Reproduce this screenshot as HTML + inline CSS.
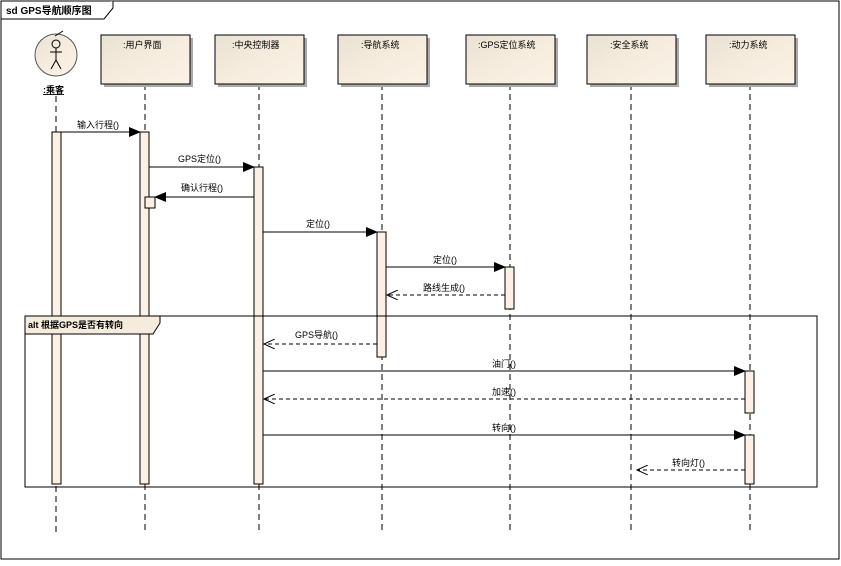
<!DOCTYPE html>
<html><head><meta charset="utf-8"><style>
body{margin:0;background:#fff;width:841px;height:561px;overflow:hidden}
svg text{font-family:"Liberation Sans","Noto Sans CJK SC",sans-serif;font-size:9px;fill:#000}
</style></head><body>
<svg width="841" height="561" viewBox="0 0 841 561">
<defs>
<linearGradient id="g" x1="0" x2="1" y1="0" y2="1"><stop offset="0" stop-color="#e9e1d2"/><stop offset="0.5" stop-color="#f5ecde"/><stop offset="1" stop-color="#fbf3e6"/></linearGradient>
<marker id="f" markerWidth="12" markerHeight="10" refX="11" refY="5" orient="auto" markerUnits="userSpaceOnUse"><path d="M0,0 L12,5 L0,10 z" fill="#000"/></marker>
<marker id="o" markerWidth="12" markerHeight="10" refX="11" refY="5" orient="auto" markerUnits="userSpaceOnUse"><path d="M0,0 L11,5 L0,10" fill="none" stroke="#000"/></marker>
</defs>
<rect x="1" y="1" width="838" height="558" fill="#fff" stroke="#000"/>
<path d="M1,19 H104 L113,8 V1" fill="#fff" stroke="#000"/>
<text x="6" y="14" style="font-weight:bold;font-size:10px">sd GPS导航顺序图</text>
<g stroke="#000" stroke-dasharray="6,4">
<line x1="56" y1="96" x2="56" y2="532"/><line x1="145" y1="84" x2="145" y2="532"/><line x1="259" y1="84" x2="259" y2="532"/><line x1="382" y1="84" x2="382" y2="532"/><line x1="510" y1="84" x2="510" y2="532"/><line x1="631" y1="84" x2="631" y2="532"/><line x1="750" y1="84" x2="750" y2="532"/>
</g>
<g>
<rect x="104" y="38" width="89" height="49" fill="#aaa"/><rect x="101" y="35" width="89" height="49" fill="url(#g)" stroke="#000"/><text x="123" y="48">:用户界面</text>
<rect x="218" y="38" width="89" height="49" fill="#aaa"/><rect x="215" y="35" width="89" height="49" fill="url(#g)" stroke="#000"/><text x="232" y="48">:中央控制器</text>
<rect x="341" y="38" width="89" height="49" fill="#aaa"/><rect x="338" y="35" width="89" height="49" fill="url(#g)" stroke="#000"/><text x="361" y="48">:导航系统</text>
<rect x="469" y="38" width="89" height="49" fill="#aaa"/><rect x="466" y="35" width="89" height="49" fill="url(#g)" stroke="#000"/><text x="478" y="48">:GPS定位系统</text>
<rect x="590" y="38" width="89" height="49" fill="#aaa"/><rect x="587" y="35" width="89" height="49" fill="url(#g)" stroke="#000"/><text x="610" y="48">:安全系统</text>
<rect x="709" y="38" width="89" height="49" fill="#aaa"/><rect x="706" y="35" width="89" height="49" fill="url(#g)" stroke="#000"/><text x="729" y="48">:动力系统</text>
</g>
<circle cx="56" cy="55" r="21" fill="url(#g)" stroke="#555"/>
<g stroke="#000" fill="none"><circle cx="56" cy="44" r="4"/><line x1="56" y1="48" x2="56" y2="60"/><line x1="50" y1="52" x2="62" y2="52"/><line x1="56" y1="60" x2="51" y2="69"/><line x1="56" y1="60" x2="61" y2="69"/><path d="M55,36 L63,31"/></g>
<text x="43" y="93" style="font-weight:bold;text-decoration:underline">:乘客</text>
<g fill="#fbf0e3" stroke="#000">
<rect x="52" y="132" width="9" height="352"/><rect x="140" y="132" width="9" height="352"/><rect x="254" y="167" width="9" height="317"/>
<rect x="377" y="232" width="9" height="125"/><rect x="505" y="267" width="9" height="42"/>
<rect x="745" y="371" width="9" height="42"/><rect x="745" y="435" width="9" height="49"/>
<rect x="145" y="197" width="10" height="11"/>
</g>
<rect x="25" y="316" width="792" height="171" fill="none" stroke="#000"/>
<path d="M25,334 H153 L160,323 V316 H25 z" fill="#f5ecde" stroke="#000"/>
<text x="28" y="328" style="font-weight:bold">alt 根据GPS是否有转向</text>
<g stroke="#000">
<line x1="61" y1="132" x2="140" y2="132" marker-end="url(#f)"/>
<line x1="149" y1="167" x2="254" y2="167" marker-end="url(#f)"/>
<line x1="254" y1="197" x2="155" y2="197" marker-end="url(#f)"/>
<line x1="263" y1="232" x2="377" y2="232" marker-end="url(#f)"/>
<line x1="386" y1="267" x2="505" y2="267" marker-end="url(#f)"/>
<line x1="263" y1="371" x2="745" y2="371" marker-end="url(#f)"/>
<line x1="263" y1="435" x2="745" y2="435" marker-end="url(#f)"/>
<g stroke-dasharray="4,3">
<line x1="505" y1="295" x2="387" y2="295" marker-end="url(#o)"/>
<line x1="377" y1="344" x2="264" y2="344" marker-end="url(#o)"/>
<line x1="745" y1="399" x2="264" y2="399" marker-end="url(#o)"/>
<line x1="745" y1="470" x2="637" y2="470" marker-end="url(#o)"/>
</g></g>
<text x="77" y="128">输入行程()</text>
<text x="178" y="162">GPS定位()</text>
<text x="181" y="191">确认行程()</text>
<text x="306" y="227">定位()</text>
<text x="433" y="263">定位()</text>
<text x="423" y="291">路线生成()</text>
<text x="295" y="338">GPS导航()</text>
<text x="492" y="367">油门()</text>
<text x="492" y="395">加速()</text>
<text x="492" y="431">转向()</text>
<text x="672" y="466">转向灯()</text>
</svg>
</body></html>
